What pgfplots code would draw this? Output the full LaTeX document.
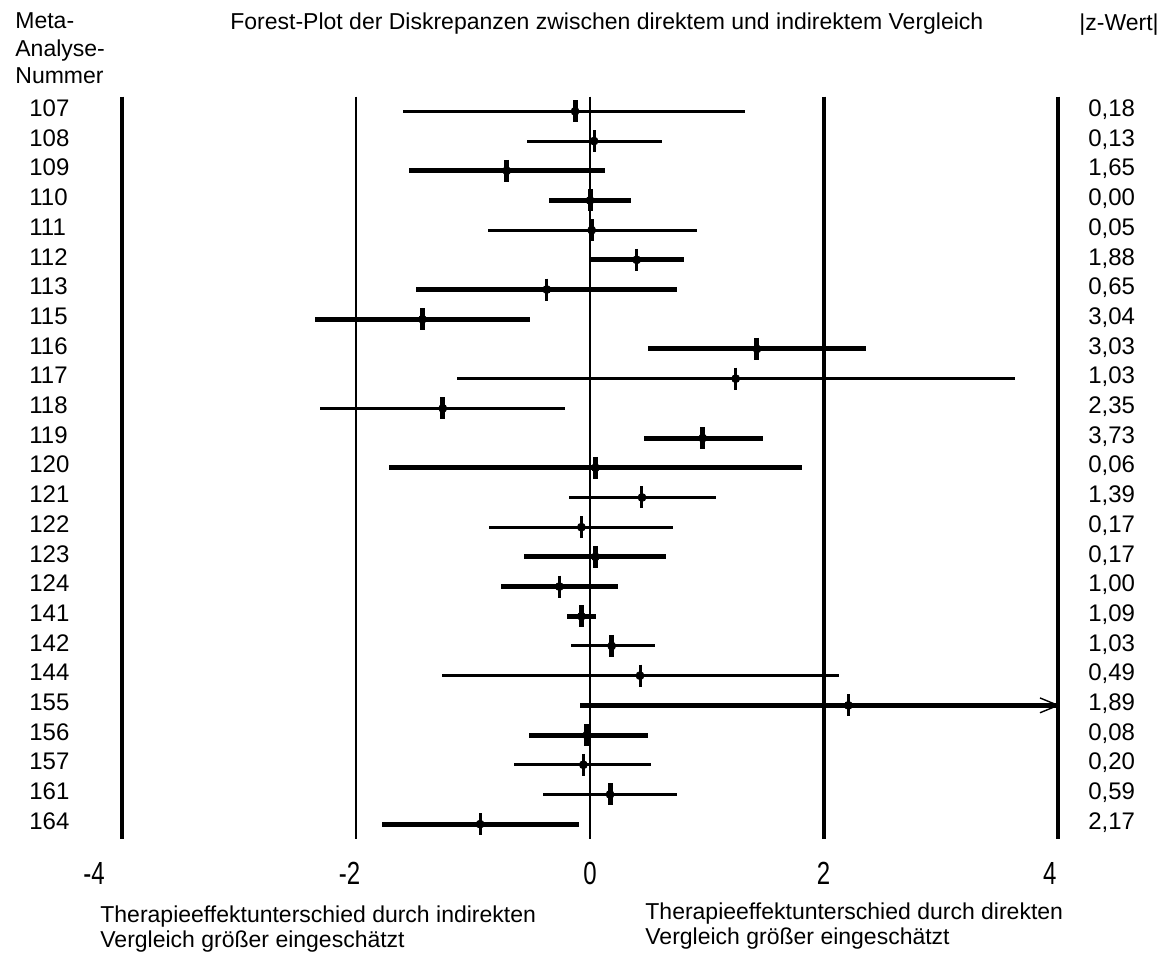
\documentclass[border=0pt]{standalone}
\usepackage{fontspec}
\setmainfont{Liberation Sans}
\newfontfamily\tickfont{Liberation Sans}[FakeStretch=0.75]
\usepackage{pgfplots}
\usepackage{pgfplotstable}
\pgfplotsset{compat=1.18}

% idx: row, num: meta-analysis number, lo/est/hi: CI and estimate,
% z: |z|, lw: CI line class (1 thin, 2 thick), mw: estimate mark class
\pgfplotstableread{
idx num lo est hi z lw mw
0 107 -1.596 -0.128 1.325 0.18 1 2
1 108 -0.541 0.034 0.618 0.13 1 1
2 109 -1.544 -0.712 0.128 1.65 2 2
3 110 -0.350 0.000 0.350 0.00 2 2
4 111 -0.872 0.014 0.917 0.05 1 2
5 112 0.000 0.399 0.806 1.88 2 1
6 113 -1.487 -0.370 0.741 0.65 2 1
7 115 -2.350 -1.433 -0.513 3.04 2 2
8 116 0.496 1.427 2.362 3.03 2 2
9 117 -1.140 1.245 3.635 1.03 1 1
10 118 -2.305 -1.259 -0.217 2.35 1 2
11 119 0.462 0.963 1.481 3.73 2 2
12 120 -1.721 0.046 1.815 0.06 2 2
13 121 -0.182 0.444 1.074 1.39 1 1
14 122 -0.860 -0.074 0.712 0.17 1 1
15 123 -0.561 0.046 0.647 0.17 2 2
16 124 -0.761 -0.262 0.242 1.00 2 1
17 141 -0.197 -0.074 0.048 1.09 2 2
18 142 -0.162 0.185 0.556 1.03 1 2
19 144 -1.268 0.427 2.128 0.49 1 1
20 155 -0.085 2.208 4.000 1.89 2 1
21 156 -0.524 -0.028 0.493 0.08 2 2
22 157 -0.650 -0.057 0.521 0.20 1 1
23 161 -0.399 0.171 0.741 0.59 1 2
24 164 -1.781 -0.940 -0.091 2.17 2 1
}\data

\begin{document}
\begin{tikzpicture}
\path[use as bounding box] (0,0) rectangle (588pt,479pt);
\begin{axis}[
  at={(43.5pt,59.5pt)}, anchor=south west,
  scale only axis, width=485.5pt, height=371.25pt,
  xmin=-4.3, xmax=4, ymin=-0.5, ymax=24.5, y dir=reverse,
  axis line style={draw=none},
  major tick length=0pt,
  xtick={-4.24,-2.056,0,1.996,3.93},
  xticklabels={-4,-2,0,2,4},
  ytick={0,...,24},
  yticklabels={107,108,109,110,111,112,113,115,116,117,118,119,120,121,122,123,124,141,142,144,155,156,157,161,164},
  xticklabel style={anchor=base, yshift=-22.5pt, inner sep=0pt, font=\tickfont\fontsize{16}{18}\selectfont},
  yticklabel style={anchor=base west, xshift=-29pt, yshift=-2.6pt, inner sep=0pt, font=\fontsize{12}{14}\selectfont},
  clip=false,
]
% reference lines
\addplot[black, line width=1.65pt] coordinates {(-4,-0.5) (-4,24.5)};
\addplot[black, line width=0.85pt] coordinates {(-2,-0.5) (-2,24.5)};
\addplot[black, line width=0.85pt] coordinates {(0,-0.5) (0,24.5)};
\addplot[black, line width=1.65pt] coordinates {(2,-0.5) (2,24.5)};
\addplot[black, line width=2pt] coordinates {(4,-0.5) (4,24.5)};
% confidence intervals, thin
\addplot[black, only marks, mark=none,
  restrict expr to domain={\thisrow{lw}}{0.5:1.5},
  error bars/.cd, x dir=both, x explicit, error mark=none,
  error bar style={line width=1.5pt, black}]
  table[x=est, y=idx, x error plus expr=\thisrow{hi}-\thisrow{est}, x error minus expr=\thisrow{est}-\thisrow{lo}] {\data};
% confidence intervals, thick
\addplot[black, only marks, mark=none,
  restrict expr to domain={\thisrow{lw}}{1.5:2.5},
  error bars/.cd, x dir=both, x explicit, error mark=none,
  error bar style={line width=2.5pt, black}]
  table[x=est, y=idx, x error plus expr=\thisrow{hi}-\thisrow{est}, x error minus expr=\thisrow{est}-\thisrow{lo}] {\data};
% estimates
\addplot[black, only marks, mark=|, mark size=5.5pt, mark options={line width=1.5pt},
  restrict expr to domain={\thisrow{mw}}{0.5:1.5}]
  table[x=est, y=idx] {\data};
\addplot[black, only marks, mark=|, mark size=5.5pt, mark options={line width=2.5pt},
  restrict expr to domain={\thisrow{mw}}{1.5:2.5}]
  table[x=est, y=idx] {\data};
% arrow head for 155
\addplot[black, line width=0.7pt] coordinates {(3.846,19.75) (4,20) (3.846,20.25)};
% z values
\addplot[only marks, mark=none, point meta=explicit,
  nodes near coords={\pgfmathprintnumber[fixed, fixed zerofill, precision=2, use comma, assume math mode=true]{\pgfplotspointmeta}},
  every node near coord/.append style={anchor=base west, inner sep=0pt, yshift=-2.6pt, font=\fontsize{12}{14}\selectfont}]
  table[x expr=4.256, y=idx, meta=z] {\data};
\end{axis}
\begin{scope}[every node/.style={inner sep=0pt, font=\fontsize{11.5}{14}\selectfont}]
\node[anchor=base west] at (115pt,464pt) {Forest-Plot der Diskrepanzen zwischen direktem und indirektem Vergleich};
\node[anchor=base west] at (7.5pt,464.5pt) {Meta-};
\node[anchor=base west] at (7.5pt,450.5pt) {Analyse-};
\node[anchor=base west] at (7.5pt,437pt) {Nummer};
\node[anchor=base west] at (539.5pt,463.5pt) {|z-Wert|};
\node[anchor=base west] at (50pt,18pt) {Therapieeffektunterschied durch indirekten};
\node[anchor=base west] at (50pt,5.5pt) {Vergleich größer eingeschätzt};
\node[anchor=base west] at (322.5pt,19.5pt) {Therapieeffektunterschied durch direkten};
\node[anchor=base west] at (322.5pt,7pt) {Vergleich größer eingeschätzt};
\end{scope}
\end{tikzpicture}
\end{document}
